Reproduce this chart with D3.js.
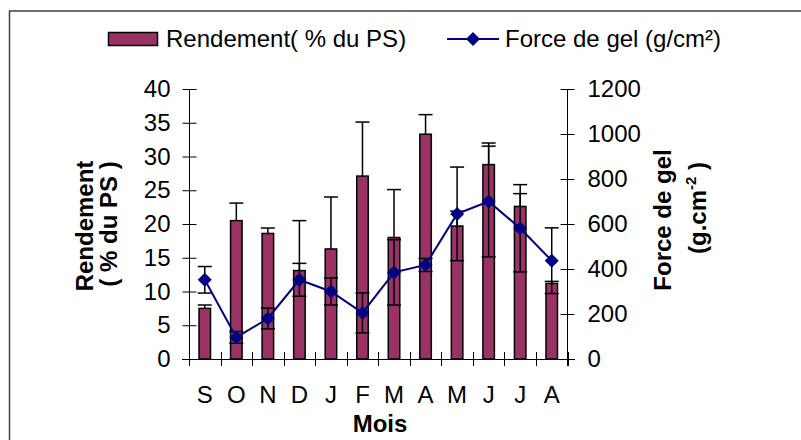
<!DOCTYPE html>
<html>
<head>
<meta charset="utf-8">
<script src="https://cdn.jsdelivr.net/npm/d3@7"></script>
<style>
    body { margin: 0; background: #fff; }
    text { font-family: "Liberation Sans", Arial, sans-serif; fill: #000; }
</style>
</head>
<body>
<svg id="chart" width="801" height="440"></svg>
<script>
// data
let months = ["S", "O", "N", "D", "J", "F", "M", "A", "M", "J", "J", "A"];
let rendement = [7.5, 20.5, 18.6, 13.1, 16.3, 27.1, 18.0, 33.3, 19.7, 28.8, 22.6, 11.2];
let rendementErr = [0.5, 2.6, 0.8, 7.4, 7.7, 8.0, 7.1, 2.9, 2.2, 3.2, 1.9, 0.3];
let forceGel = [352, 96, 180, 352, 300, 205, 385, 418, 645, 700, 581, 437];
let forceGelErr = [59, 26, 46, 73, 60, 89, 145, 29, 208, 246, 194, 146];
let leftTicks = [0, 5, 10, 15, 20, 25, 30, 35, 40];
let rightTicks = [0, 200, 400, 600, 800, 1000, 1200];

const barColor = "#993366";
const lineColor = "#000080";

let svg = d3.select("#chart");

let x = d3.scaleBand()
    .domain(d3.range(months.length))
    .range([189, 567.5]);
let yLeft = d3.scaleLinear().domain([0, 40]).range([359, 89]);
let yRight = d3.scaleLinear().domain([0, 1200]).range([359, 89]);

// outer frame (right and bottom edges fall outside the picture)
svg.append("rect")
    .attr("x", 9.5).attr("y", 11)
    .attr("width", 800).attr("height", 440)
    .attr("fill", "none")
    .attr("stroke", "#404040")
    .attr("stroke-width", 1.5);

// left axis
let gLeft = svg.append("g")
    .attr("transform", "translate(189.5, 0)")
    .call(d3.axisLeft(yLeft).tickValues(leftTicks).tickSizeInner(7).tickSizeOuter(0).tickPadding(12));
gLeft.select(".domain").attr("d", "M0,89V366");
gLeft.selectAll(".tick line").attr("x2", 7).attr("x1", -7);
gLeft.selectAll(".tick text").style("font-size", "24px");

// right axis
let gRight = svg.append("g")
    .attr("transform", "translate(567.5, 0)")
    .call(d3.axisRight(yRight).tickValues(rightTicks).tickFormat(d3.format("d"))
        .tickSizeInner(7).tickSizeOuter(0).tickPadding(13));
gRight.select(".domain").attr("d", "M0,89V366");
gRight.selectAll(".tick line").attr("x1", -7).attr("x2", 7);
gRight.selectAll(".tick text").style("font-size", "24px");

// category axis: ticks between categories, crossing the axis line
let xTicks = d3.range(months.length + 1).map(i => i < months.length ? x(i) : x.range()[1]);
svg.append("line")
    .attr("x1", 182).attr("x2", 575)
    .attr("y1", 359.5).attr("y2", 359.5)
    .attr("stroke", "#000");
svg.selectAll(".xtick")
    .data(xTicks)
    .enter().append("line")
        .attr("class", "xtick")
        .attr("x1", d => Math.round(d) + 0.5)
        .attr("x2", d => Math.round(d) + 0.5)
        .attr("y1", 352).attr("y2", 366)
        .attr("stroke", "#000");
svg.selectAll(".xlabel")
    .data(months)
    .enter().append("text")
        .attr("class", "xlabel")
        .attr("x", (d, i) => x(i) + x.bandwidth() / 2)
        .attr("y", 403)
        .style("text-anchor", "middle")
        .style("font-size", "24px")
        .text(d => d);

// bars
let barW = 11.5;
svg.selectAll(".bar")
    .data(rendement)
    .enter().append("rect")
        .attr("class", "bar")
        .attr("x", (d, i) => x(i) + x.bandwidth() / 2 - barW / 2)
        .attr("y", d => yLeft(d))
        .attr("width", barW)
        .attr("height", d => yLeft(0) - yLeft(d))
        .attr("fill", barColor)
        .attr("stroke", "#000")
        .attr("stroke-width", 1.5);

// bar error bars (plus only)
let barErr = svg.append("g").attr("stroke", "#000").attr("stroke-width", 1.5);
rendement.forEach(function(d, i) {
    let cx = x(i) + x.bandwidth() / 2;
    let top = yLeft(d + rendementErr[i]);
    barErr.append("line")
        .attr("x1", cx).attr("x2", cx)
        .attr("y1", yLeft(d)).attr("y2", top);
    barErr.append("line")
        .attr("x1", cx - 7).attr("x2", cx + 7)
        .attr("y1", top).attr("y2", top);
});

// line error bars (both directions)
let lineErr = svg.append("g").attr("stroke", "#000").attr("stroke-width", 1.5);
forceGel.forEach(function(d, i) {
    let cx = x(i) + x.bandwidth() / 2;
    let hi = yRight(d + forceGelErr[i]);
    let lo = yRight(d - forceGelErr[i]);
    lineErr.append("line")
        .attr("x1", cx).attr("x2", cx)
        .attr("y1", hi).attr("y2", lo);
    [hi, lo].forEach(function(yy) {
        lineErr.append("line")
            .attr("x1", cx - 7).attr("x2", cx + 7)
            .attr("y1", yy).attr("y2", yy);
    });
});

// force de gel line
svg.append("path")
    .datum(forceGel)
    .attr("fill", "none")
    .attr("stroke", lineColor)
    .attr("stroke-width", 2)
    .attr("d", d3.line()
        .x((d, i) => x(i) + x.bandwidth() / 2)
        .y(d => yRight(d)));

let diamond = "M0,-7L7,0L0,7L-7,0Z";
svg.selectAll(".marker")
    .data(forceGel)
    .enter().append("path")
        .attr("class", "marker")
        .attr("d", diamond)
        .attr("transform", (d, i) => `translate(${x(i) + x.bandwidth() / 2},${yRight(d)})`)
        .attr("fill", lineColor);

// axis titles
svg.append("text")
    .attr("transform", "translate(93, 226) rotate(-90)")
    .style("text-anchor", "middle")
    .style("font-size", "24px")
    .style("font-weight", "bold")
    .text("Rendement");
svg.append("text")
    .attr("transform", "translate(117, 224) rotate(-90)")
    .style("text-anchor", "middle")
    .style("font-size", "24px")
    .style("font-weight", "bold")
    .text("( % du PS )");

svg.append("text")
    .attr("transform", "translate(671, 220) rotate(-90)")
    .style("text-anchor", "middle")
    .style("font-size", "24px")
    .style("font-weight", "bold")
    .text("Force de gel");
let unit = svg.append("text")
    .attr("transform", "translate(706, 208) rotate(-90)")
    .style("text-anchor", "middle")
    .style("font-size", "24px")
    .style("font-weight", "bold");
unit.append("tspan").text("(g.cm");
unit.append("tspan").attr("dy", -10).style("font-size", "15px").text("-2");
unit.append("tspan").attr("dy", 10).text(" )");

svg.append("text")
    .attr("x", 380).attr("y", 432)
    .style("text-anchor", "middle")
    .style("font-size", "24px")
    .style("font-weight", "bold")
    .text("Mois");

// legend
svg.append("rect")
    .attr("x", 108.5).attr("y", 32.5)
    .attr("width", 49).attr("height", 13)
    .attr("fill", barColor)
    .attr("stroke", "#000")
    .attr("stroke-width", 1.5);
svg.append("text")
    .attr("x", 166).attr("y", 47)
    .style("font-size", "24px")
    .text("Rendement( % du PS)");
svg.append("line")
    .attr("x1", 447).attr("x2", 499)
    .attr("y1", 39).attr("y2", 39)
    .attr("stroke", lineColor)
    .attr("stroke-width", 2);
svg.append("path")
    .attr("d", diamond)
    .attr("transform", "translate(473, 39)")
    .attr("fill", lineColor);
svg.append("text")
    .attr("x", 505).attr("y", 47)
    .style("font-size", "24px")
    .text("Force de gel (g/cm²)");
</script>
</body>
</html>
